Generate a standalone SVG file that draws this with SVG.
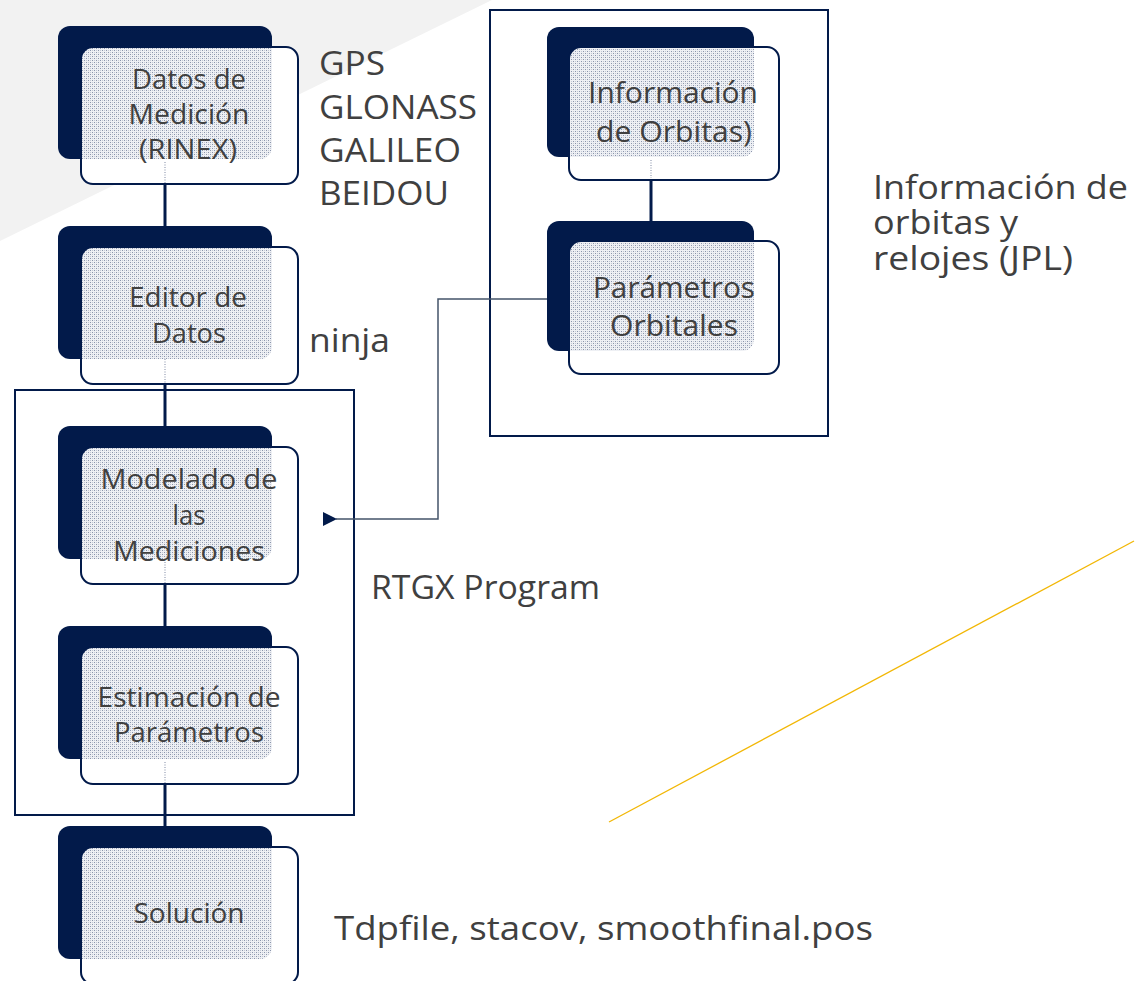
<svg xmlns="http://www.w3.org/2000/svg" xmlns:xlink="http://www.w3.org/1999/xlink" width="1137" height="981" viewBox="0 0 1137 981">
<style>
.dark{fill:#021a4a}
.lightf{fill:#ffffff}
.lights{fill:none;stroke:#021a4a;stroke-width:2}
.pat{fill:url(#dots)}
.ghost{stroke:#aab1c2;stroke-width:1.5;stroke-dasharray:1 1.5}
.nt{font-family:"Open Sans","Liberation Sans",sans-serif;fill:#404040;text-anchor:middle;font-size:27px}
.rt{font-family:"Open Sans","Liberation Sans",sans-serif;fill:#404040;text-anchor:middle;font-size:29px}
.side{font-family:"Open Sans","Liberation Sans",sans-serif;fill:#404040;font-size:33px}
.conn{stroke:#021a4a;stroke-width:3;fill:none}
.frame{fill:none;stroke:#021a4a;stroke-width:2}
</style>
<defs>
<pattern id="dots" width="4" height="4" patternUnits="userSpaceOnUse">
<rect width="4" height="4" fill="#eef0f4"/>
<rect x="0" y="0" width="1" height="1" fill="#8a94ab"/>
<rect x="2" y="2" width="1" height="1" fill="#8a94ab"/>
<rect x="2" y="0" width="1" height="1" fill="#c3c8d4"/>
<rect x="0" y="2" width="1" height="1" fill="#c3c8d4"/>
</pattern>
<clipPath id="clipL"><rect x="23" y="21" width="217" height="137" rx="12"/></clipPath>
<clipPath id="clipR"><rect x="22" y="20" width="210" height="133" rx="12"/></clipPath>
<g id="shapeL">
<rect class="dark" x="0" y="0" width="214" height="133" rx="12"/>
<rect class="lightf" x="23" y="21" width="217" height="137" rx="12"/>
<rect class="pat" x="0" y="0" width="214" height="133" rx="12" clip-path="url(#clipL)"/>
<rect class="lights" x="23" y="21" width="217" height="137" rx="12"/>
</g>
<g id="shapeR">
<rect class="dark" x="0" y="0" width="207" height="130" rx="12"/>
<rect class="lightf" x="22" y="20" width="210" height="133" rx="12"/>
<rect class="pat" x="0" y="0" width="207" height="130" rx="12" clip-path="url(#clipR)"/>
<rect class="lights" x="22" y="20" width="210" height="133" rx="12"/>
</g>
<marker id="arrow" markerWidth="16" markerHeight="14" refX="1" refY="7" orient="auto" markerUnits="userSpaceOnUse">
<path d="M14,0 L0,7 L14,14 Z" fill="#021a4a"/>
</marker>
</defs>

<polygon points="0,0 492,0 0,241" fill="#f2f2f2"/>
<line x1="609" y1="822" x2="1134" y2="541" stroke="#f2b705" stroke-width="1.3"/>

<g id="frames">
<rect class="frame" x="15" y="390" width="339" height="425"/>
<rect class="frame" x="490" y="10" width="338" height="426"/>
</g>

<g id="connectors">
<line class="conn" x1="165" y1="159" x2="165" y2="226"/>
<line class="conn" x1="165" y1="359" x2="165" y2="426"/>
<line class="conn" x1="165" y1="559" x2="165" y2="626"/>
<line class="conn" x1="165" y1="759" x2="165" y2="826"/>
<line class="conn" x1="651" y1="157" x2="651" y2="221"/>
<path d="M547,299 H438 V519 H336" fill="none" stroke="#44546a" stroke-width="1.5" marker-end="url(#arrow)"/>
</g>

<g id="node-datos">
<use xlink:href="#shapeL" x="58" y="26"/>
<line class="ghost" x1="165" y1="162" x2="165" y2="183"/>
<text class="nt" x="189" y="89" textLength="114" lengthAdjust="spacingAndGlyphs">Datos de</text>
<text class="nt" x="189" y="124" textLength="121" lengthAdjust="spacingAndGlyphs">Medición</text>
<text class="nt" x="188" y="159" textLength="98" lengthAdjust="spacingAndGlyphs">(RINEX)</text>
</g>

<g id="node-editor">
<use xlink:href="#shapeL" x="58" y="226"/>
<line class="ghost" x1="165" y1="359" x2="165" y2="383"/>
<text class="nt" x="188" y="307" textLength="118" lengthAdjust="spacingAndGlyphs">Editor de</text>
<text class="nt" x="189" y="343" textLength="74" lengthAdjust="spacingAndGlyphs">Datos</text>
</g>

<g id="node-modelado">
<use xlink:href="#shapeL" x="58" y="426"/>
<line class="ghost" x1="165" y1="562" x2="165" y2="583"/>
<text class="nt" x="189" y="489" textLength="177" lengthAdjust="spacingAndGlyphs">Modelado de</text>
<text class="nt" x="189" y="525" textLength="33" lengthAdjust="spacingAndGlyphs">las</text>
<text class="nt" x="189" y="561" textLength="152" lengthAdjust="spacingAndGlyphs">Mediciones</text>
</g>

<g id="node-estimacion">
<use xlink:href="#shapeL" x="58" y="626"/>
<line class="ghost" x1="165" y1="762" x2="165" y2="783"/>
<text class="nt" x="189" y="707" textLength="183" lengthAdjust="spacingAndGlyphs">Estimación de</text>
<text class="nt" x="189" y="742" textLength="150" lengthAdjust="spacingAndGlyphs">Parámetros</text>
</g>

<g id="node-solucion">
<use xlink:href="#shapeL" x="58" y="826"/>
<text class="nt" x="189" y="923" textLength="111" lengthAdjust="spacingAndGlyphs">Solución</text>
</g>

<g id="node-info-orbitas">
<use xlink:href="#shapeR" x="547" y="27"/>
<line class="ghost" x1="651" y1="160" x2="651" y2="178"/>
<text class="rt" x="673" y="103" textLength="170" lengthAdjust="spacingAndGlyphs">Información</text>
<text class="rt" x="674" y="142" textLength="156" lengthAdjust="spacingAndGlyphs">de Orbitas)</text>
</g>

<g id="node-parametros-orbitales">
<use xlink:href="#shapeR" x="547" y="221"/>
<text class="rt" x="674" y="298" textLength="162" lengthAdjust="spacingAndGlyphs">Parámetros</text>
<text class="rt" x="674" y="336" textLength="128" lengthAdjust="spacingAndGlyphs">Orbitales</text>
</g>

<g id="labels">
<text class="side" x="319" y="75" textLength="66" lengthAdjust="spacingAndGlyphs">GPS</text>
<text class="side" x="319" y="119" textLength="158" lengthAdjust="spacingAndGlyphs">GLONASS</text>
<text class="side" x="319" y="162" textLength="142" lengthAdjust="spacingAndGlyphs">GALILEO</text>
<text class="side" x="319" y="205" textLength="130" lengthAdjust="spacingAndGlyphs">BEIDOU</text>
<text class="side" x="309" y="352" textLength="81" lengthAdjust="spacingAndGlyphs">ninja</text>
<text class="side" x="873" y="199" textLength="255" lengthAdjust="spacingAndGlyphs">Información de</text>
<text class="side" x="873" y="234" textLength="145" lengthAdjust="spacingAndGlyphs">orbitas y</text>
<text class="side" x="873" y="270" textLength="200" lengthAdjust="spacingAndGlyphs">relojes (JPL)</text>
<text class="side" x="371" y="599" textLength="229" lengthAdjust="spacingAndGlyphs">RTGX Program</text>
<text class="side" x="334" y="940" textLength="539" lengthAdjust="spacingAndGlyphs">Tdpfile, stacov, smoothfinal.pos</text>
</g>
</svg>
